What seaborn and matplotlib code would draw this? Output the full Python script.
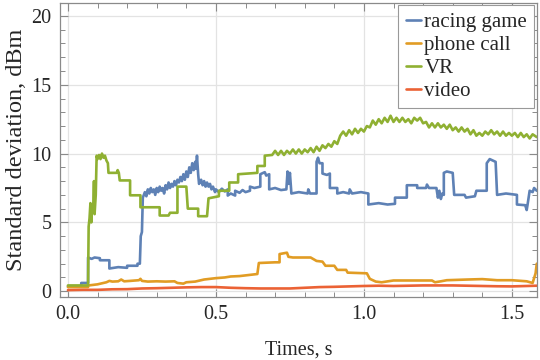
import matplotlib
matplotlib.use("Agg")
import matplotlib.pyplot as plt
import seaborn as sns
import pandas as pd
from matplotlib.ticker import MultipleLocator

# (time in s, standard deviation in dBm)
racing_game = [
    (0, 0.35), (0.045, 0.35), (0.045, 0.6), (0.068, 0.6), (0.068, 2.45),
    (0.08, 2.35), (0.09, 2.45), (0.108, 2.4), (0.108, 2.25), (0.14, 2.25),
    (0.14, 1.65), (0.17, 1.75), (0.2, 1.7), (0.2, 1.85), (0.235, 1.85),
    (0.235, 2.0), (0.243, 2.0),
    (0.246, 4.0), (0.25, 4.3), (0.253, 6.8), (0.26, 7.2), (0.265, 6.9),
    (0.27, 7.4), (0.275, 7.1), (0.28, 7.5), (0.285, 7.2), (0.29, 7.4),
    (0.295, 7.0), (0.30, 7.5), (0.305, 7.2), (0.31, 7.6), (0.315, 7.3),
    (0.32, 7.5), (0.325, 7.1), (0.33, 7.7), (0.335, 7.4), (0.34, 7.9),
    (0.345, 7.5), (0.35, 7.8), (0.355, 7.6), (0.36, 8.0), (0.365, 7.7),
    (0.37, 8.1), (0.375, 7.9), (0.38, 8.3), (0.385, 8.0), (0.39, 8.5),
    (0.395, 8.1), (0.40, 8.7), (0.405, 8.3), (0.41, 9.0), (0.415, 8.6),
    (0.42, 9.3), (0.425, 8.8), (0.43, 9.4), (0.433, 8.9), (0.436, 9.85),
    (0.44, 8.5), (0.443, 7.8), (0.45, 8.1), (0.455, 7.7), (0.46, 8.0),
    (0.465, 7.6), (0.47, 7.9), (0.475, 7.6), (0.48, 7.8), (0.485, 7.4),
    (0.49, 7.6), (0.497, 7.2), (0.50, 7.4), (0.51, 7.2), (0.52, 7.45),
    (0.53, 7.25), (0.54, 7.4),
    (0.54, 6.95), (0.55, 7.1), (0.565, 6.95), (0.565, 7.3), (0.58, 7.15),
    (0.59, 7.35), (0.60, 7.2), (0.615, 7.3),
    (0.615, 7.6), (0.63, 7.5), (0.65, 7.6), (0.65, 8.5), (0.665, 8.65),
    (0.67, 8.4), (0.68, 8.5),
    (0.68, 7.4), (0.70, 7.5), (0.72, 7.35), (0.738, 7.4), (0.742, 8.7),
    (0.746, 7.8), (0.75, 8.6), (0.755, 7.1), (0.78, 7.2), (0.81, 7.1),
    (0.812, 7.4), (0.818, 7.1), (0.84, 7.1),
    (0.84, 9.4), (0.845, 9.7), (0.85, 9.3), (0.86, 9.3), (0.86, 8.55),
    (0.875, 8.45), (0.885, 8.55), (0.885, 7.5), (0.91, 7.5), (0.91, 7.1),
    (0.93, 7.2), (0.95, 7.1), (0.952, 7.4), (0.96, 7.1), (0.99, 7.2),
    (1.015, 7.1), (1.015, 6.3), (1.05, 6.4), (1.08, 6.3), (1.105, 6.35),
    (1.105, 6.8), (1.145, 6.8), (1.145, 7.7), (1.18, 7.7), (1.18, 7.5),
    (1.21, 7.5), (1.213, 7.75), (1.22, 7.5), (1.245, 7.5), (1.25, 6.8),
    (1.255, 7.3), (1.26, 6.7), (1.265, 7.1), (1.27, 7.0), (1.27, 8.6),
    (1.28, 8.7), (1.30, 8.6), (1.305, 7.0), (1.34, 7.0), (1.345, 6.8),
    (1.375, 6.9), (1.38, 7.3), (1.415, 7.3), (1.415, 9.3), (1.425, 9.6),
    (1.445, 9.4), (1.45, 7.0), (1.48, 7.1), (1.517, 7.0), (1.517, 6.3),
    (1.545, 6.25), (1.55, 5.9), (1.553, 6.3), (1.56, 7.3), (1.57, 7.2),
    (1.575, 7.5), (1.584, 7.3),
]

phone_call = [
    (0, 0.3), (0.068, 0.3), (0.07, 0.42), (0.10, 0.5), (0.12, 0.6),
    (0.13, 0.65), (0.14, 0.75), (0.15, 0.7), (0.17, 0.72), (0.18, 0.85),
    (0.19, 0.72), (0.21, 0.75), (0.24, 0.8), (0.245, 0.9), (0.25, 0.75),
    (0.27, 0.7), (0.30, 0.72), (0.33, 0.7), (0.36, 0.72), (0.37, 0.6),
    (0.39, 0.55), (0.40, 0.65), (0.43, 0.7), (0.46, 0.85), (0.48, 0.9),
    (0.50, 0.95), (0.53, 1.0), (0.55, 1.07), (0.58, 1.1), (0.60, 1.15),
    (0.62, 1.2), (0.64, 1.25), (0.645, 2.05), (0.70, 2.1), (0.715, 2.1),
    (0.715, 2.7), (0.74, 2.8), (0.745, 2.5), (0.76, 2.45), (0.82, 2.45),
    (0.84, 2.2), (0.86, 2.15), (0.87, 1.85), (0.90, 1.85), (0.91, 1.55),
    (0.94, 1.55), (0.945, 1.35), (1.01, 1.3), (1.02, 0.9), (1.04, 0.7),
    (1.06, 0.65), (1.10, 0.78), (1.23, 0.78), (1.24, 0.65), (1.26, 0.72),
    (1.28, 0.8), (1.35, 0.85), (1.40, 0.88), (1.45, 0.8), (1.50, 0.8),
    (1.55, 0.72), (1.57, 0.6), (1.58, 1.3), (1.584, 2.0),
]

vr = [
    (0, 0.42), (0.068, 0.42), (0.07, 4.7), (0.073, 5.3), (0.076, 6.4),
    (0.079, 5.0), (0.082, 6.3), (0.085, 5.8), (0.088, 8.0), (0.09, 5.6),
    (0.094, 7.0), (0.097, 9.85), (0.10, 9.6), (0.105, 9.9), (0.11, 9.6),
    (0.115, 10.0), (0.12, 9.7), (0.125, 9.85), (0.13, 9.5), (0.135, 9.3),
    (0.137, 8.6), (0.165, 8.6), (0.168, 8.8), (0.172, 8.6), (0.175, 8.05),
    (0.21, 8.05), (0.21, 6.97), (0.245, 6.97), (0.245, 6.1), (0.31, 6.1),
    (0.31, 5.5), (0.34, 5.5), (0.345, 5.7), (0.37, 5.7), (0.37, 7.6),
    (0.40, 7.6), (0.405, 6.0), (0.44, 6.0), (0.44, 5.45), (0.47, 5.45),
    (0.475, 6.75), (0.51, 6.9), (0.51, 7.3), (0.545, 7.3), (0.545, 7.9),
    (0.575, 7.9), (0.575, 8.5), (0.64, 8.6), (0.64, 9.1), (0.665, 9.1),
    (0.665, 9.85), (0.69, 9.9), (0.70, 10.2), (0.71, 9.9), (0.72, 10.2),
    (0.73, 9.9), (0.74, 10.2), (0.75, 10.0), (0.76, 10.3), (0.77, 10.0),
    (0.78, 10.3), (0.79, 10.0), (0.80, 10.3), (0.81, 10.1), (0.82, 10.4),
    (0.83, 10.1), (0.84, 10.5), (0.85, 10.2), (0.86, 10.6), (0.87, 10.4),
    (0.88, 10.7), (0.89, 10.5), (0.90, 10.9), (0.91, 10.7), (0.92, 11.3),
    (0.93, 11.6), (0.94, 11.3), (0.95, 11.7), (0.96, 11.4), (0.97, 11.8),
    (0.98, 11.5), (0.99, 11.8), (1.00, 11.6), (1.01, 12.0), (1.02, 11.9),
    (1.03, 12.4), (1.04, 12.1), (1.05, 12.5), (1.06, 12.2), (1.07, 12.6),
    (1.08, 12.3), (1.09, 12.75), (1.10, 12.3), (1.11, 12.6), (1.12, 12.3),
    (1.13, 12.6), (1.14, 12.3), (1.15, 12.5), (1.16, 12.2), (1.17, 12.6),
    (1.18, 12.4), (1.19, 12.6), (1.20, 12.2), (1.21, 12.3), (1.22, 11.9),
    (1.23, 12.2), (1.24, 11.9), (1.25, 12.2), (1.26, 11.9), (1.27, 12.1),
    (1.28, 11.8), (1.29, 12.1), (1.30, 11.7), (1.31, 11.9), (1.32, 11.6),
    (1.33, 11.9), (1.34, 11.6), (1.35, 11.8), (1.36, 11.4), (1.37, 11.7),
    (1.38, 11.3), (1.39, 11.5), (1.40, 11.3), (1.41, 11.6), (1.42, 11.4),
    (1.43, 11.7), (1.44, 11.4), (1.45, 11.6), (1.46, 11.3), (1.47, 11.6),
    (1.48, 11.3), (1.49, 11.5), (1.50, 11.3), (1.51, 11.5), (1.52, 11.2),
    (1.53, 11.5), (1.54, 11.2), (1.55, 11.4), (1.56, 11.1), (1.57, 11.4),
    (1.584, 11.2),
]

video = [
    (0, 0.08), (0.05, 0.1), (0.1, 0.1), (0.15, 0.14), (0.2, 0.15),
    (0.25, 0.2), (0.3, 0.22), (0.35, 0.25), (0.4, 0.28), (0.45, 0.3),
    (0.5, 0.3), (0.55, 0.25), (0.6, 0.22), (0.65, 0.2), (0.7, 0.2),
    (0.75, 0.2), (0.8, 0.25), (0.85, 0.3), (0.9, 0.32), (0.95, 0.35),
    (1.0, 0.38), (1.05, 0.4), (1.1, 0.38), (1.15, 0.4), (1.2, 0.42),
    (1.25, 0.42), (1.3, 0.42), (1.35, 0.4), (1.4, 0.38), (1.45, 0.36),
    (1.5, 0.35), (1.55, 0.38), (1.584, 0.4),
]

labels = ["racing game", "phone call", "VR", "video"]
colors = ["#5E81B5", "#E19C24", "#8FB032", "#EB6235"]
x_ticks = [0.0, 0.5, 1.0, 1.5]
y_ticks = [0, 5, 10, 15, 20]

frames = []
for name, series in zip(labels, [racing_game, phone_call, vr, video]):
    df = pd.DataFrame(series, columns=["t", "sd"])
    df["signal"] = name
    frames.append(df)
data = pd.concat(frames, ignore_index=True)

sns.set_style("ticks")
plt.rcParams["font.family"] = ["Liberation Serif", "DejaVu Serif"]

fig = plt.figure(figsize=(5.4, 3.6), dpi=100)
ax = fig.add_axes([0.111, 0.175, 0.883, 0.817])

sns.lineplot(data=data, x="t", y="sd", hue="signal", hue_order=labels,
             palette=colors, estimator=None, sort=False, linewidth=1.9,
             legend=False, ax=ax)

ax.set_xlim(-0.027, 1.584)
ax.set_ylim(-0.42, 20.95)
ax.set_xticks(x_ticks)
ax.set_xticklabels([f"{v:.1f}" for v in x_ticks])
ax.set_yticks(y_ticks)
ax.set_yticklabels([str(v) for v in y_ticks])
ax.xaxis.set_minor_locator(MultipleLocator(0.1))
ax.yaxis.set_minor_locator(MultipleLocator(1))
ax.grid(True, which="major", color="#e3e3e3", linewidth=0.9)
ax.set_axisbelow(True)

ax.tick_params(which="both", direction="in", top=True, right=True,
               color="#8a8a8a", labelsize=14.5, pad=6)
ax.tick_params(which="major", length=6, width=0.8)
ax.tick_params(which="minor", length=3.5, width=0.7)
for sp in ax.spines.values():
    sp.set_color("#8a8a8a")
    sp.set_linewidth(0.9)

ax.set_xlabel("Times, s", fontsize=14.5, labelpad=12)
ax.set_ylabel("Standard deviation, dBm", fontsize=17.5, labelpad=3)

handles = [plt.Line2D([], [], color=c, linewidth=1.9) for c in colors]
leg = ax.legend(handles, labels, loc="upper right",
                bbox_to_anchor=(0.995, 0.993), fontsize=15,
                handlelength=0.75, handletextpad=0.15, labelspacing=0.17,
                borderpad=0.35, borderaxespad=0.0, fancybox=False,
                framealpha=1, edgecolor="#999999")
leg.get_frame().set_linewidth(0.8)

fig.savefig("out.png", dpi=100)
